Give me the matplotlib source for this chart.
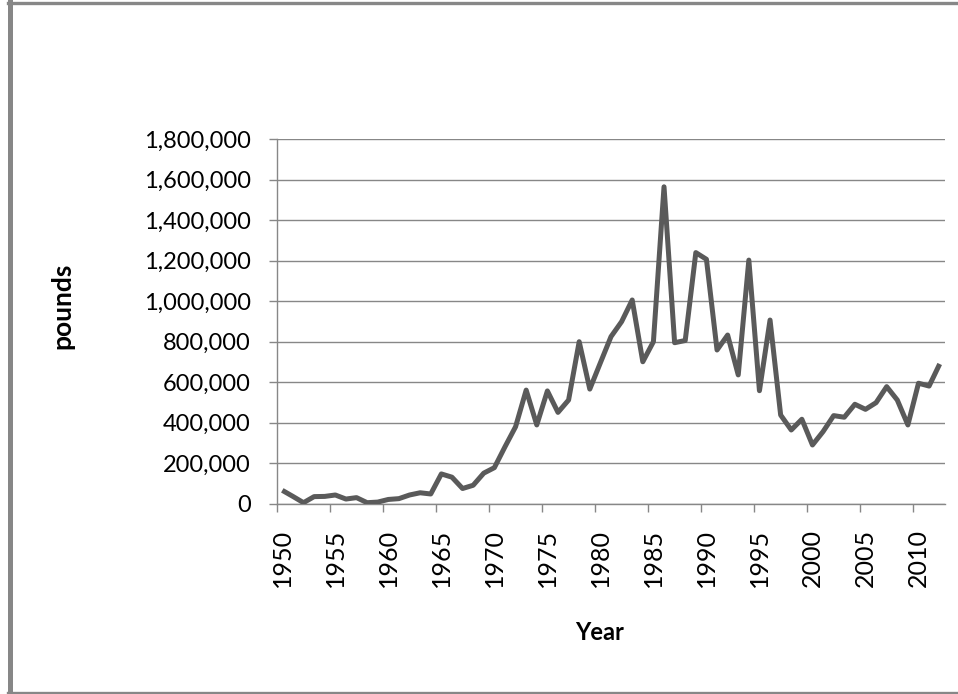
import matplotlib
matplotlib.use("Agg")
import matplotlib.pyplot as plt
from matplotlib.lines import Line2D
from matplotlib.ticker import FixedLocator, FuncFormatter
import numpy as np

years = list(range(1950, 2013))
pounds = [65000, 35000, 4000, 34000, 35000, 42000, 22000, 29000, 4000, 7000,
          20000, 24000, 42000, 53000, 47000, 146000, 130000, 74000, 90000, 150000,
          177000, 280000, 379000, 560000, 388000, 556000, 450000, 511000, 799000, 565000,
          695000, 824000, 898000, 1005000, 700000, 799000, 1564000, 794000, 805000, 1239000,
          1206000, 758000, 832000, 635000, 1202000, 557000, 906000, 437000, 363000, 416000,
          289000, 355000, 434000, 426000, 490000, 465000, 498000, 577000, 511000, 388000,
          594000, 580000, 689000]
label_years = list(range(1950, 2011, 5))
y_ticks = list(range(0, 1800001, 200000))

plt.rcParams['font.family'] = ['Lato', 'DejaVu Sans']

W, H = 958, 694
fig = plt.figure(figsize=(W / 100, H / 100), dpi=100)
ax = fig.add_axes([277 / W, 1 - 503.5 / H, (945 - 277) / W, (503.5 - 139) / H])

grey = '#878787'
idx = np.arange(len(years))
ax.plot(idx, pounds, color='#5a5a5a', lw=3.6, solid_joinstyle='round', solid_capstyle='butt', zorder=3)

ax.set_xlim(-0.5, len(years) - 0.5)
ax.set_ylim(0, 1800000)

ax.set_yticks(y_ticks)
ax.yaxis.set_major_formatter(FuncFormatter(lambda v, p: f"{int(v):,}"))
ax.grid(axis='y', color=grey, lw=1.0)
ax.set_axisbelow(True)

# x ticks at category boundaries, labels at category centres
bounds = [years.index(y) - 0.5 for y in label_years]
centres = [years.index(y) for y in label_years]
ax.xaxis.set_major_locator(FixedLocator(bounds))
ax.xaxis.set_major_formatter(FuncFormatter(lambda v, p: ""))
ax.xaxis.set_minor_locator(FixedLocator(centres))
ax.xaxis.set_minor_formatter(FuncFormatter(lambda v, p: str(years[int(round(v))])))
ax.tick_params(axis='x', which='major', length=6, width=1, color=grey, direction='out')
ax.tick_params(axis='x', which='minor', length=0, pad=18.5, labelsize=18, labelrotation=90)
ax.tick_params(axis='y', which='major', length=6, width=1, color=grey, direction='out',
               pad=13, labelsize=17)

for s in ['top', 'right']:
    ax.spines[s].set_visible(False)
for s in ['left', 'bottom']:
    ax.spines[s].set_color(grey)
    ax.spines[s].set_linewidth(1.0)

ax.set_xlabel('Year', fontsize=17, fontweight='bold')
ax.xaxis.set_label_coords((600 - 277) / 668, (503.5 - 632) / 364.5)
ax.xaxis.label.set_va('center')
ax.set_ylabel('pounds', fontsize=19, fontweight='bold')
ax.yaxis.set_label_coords((62 - 277) / 668, (503.5 - 306) / 364.5)
ax.yaxis.label.set_va('center')

# outer chart border
fig.add_artist(Line2D([9.8 / W, 9.8 / W], [0, 1 - 2 / H], transform=fig.transFigure, color=grey, lw=3.6))
fig.add_artist(Line2D([8 / W, 1], [1 - 3.3 / H, 1 - 3.3 / H], transform=fig.transFigure, color=grey, lw=2.4))
fig.add_artist(Line2D([8 / W, 1], [1 - 693 / H, 1 - 693 / H], transform=fig.transFigure, color=grey, lw=2.4))

fig.savefig('out.png', dpi=100)
